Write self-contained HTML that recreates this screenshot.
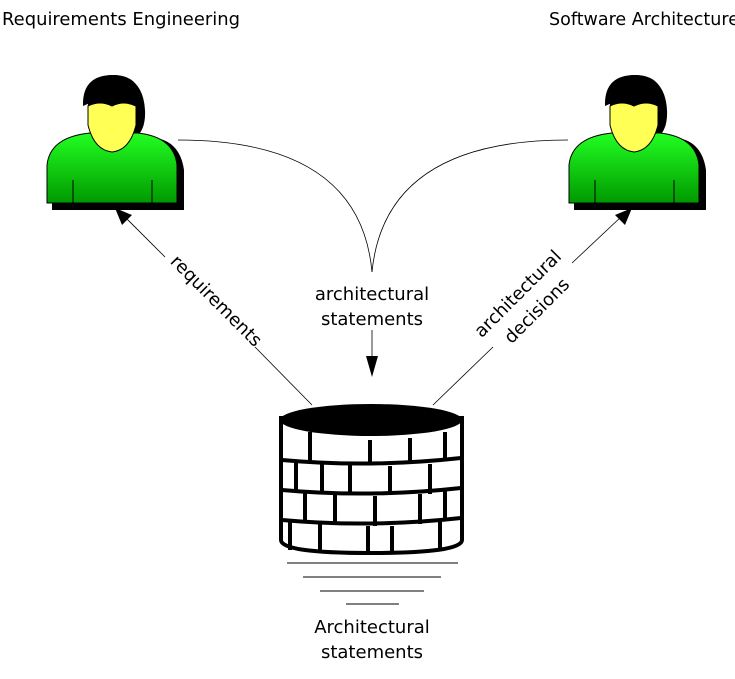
<!DOCTYPE html>
<html><head><style>body{margin:0;background:#fff}svg{display:block}</style></head><body>
<svg width="735" height="679" viewBox="0 0 735 679" xmlns="http://www.w3.org/2000/svg" font-family="'DejaVu Sans',sans-serif">
<defs>
<linearGradient id="g" x1="0" y1="0" x2="0" y2="1"><stop offset="0" stop-color="#22ff22"/><stop offset="1" stop-color="#009900"/></linearGradient>
<g id="p">
<path d="M52 210 L52 170 Q56 142 92 138 L156 138 Q180 142 184 170 L184 210 Z" fill="#000"/>
<path d="M88 112 Q86 75 113 75 Q143 76 145 110 Q146 130 135 138 L120 135 Z" fill="#000"/>
<path d="M47 203 L47 165 Q50 137 90 133 L138 133 Q174 137 177 165 L177 203 Z" fill="url(#g)" stroke="#000" stroke-width="1"/>
<line x1="73" y1="180" x2="73" y2="203" stroke="#000"/><line x1="152" y1="180" x2="152" y2="203" stroke="#000"/>
<path d="M88 106 Q100 100 112 106 Q124 100 136 106 L136 125 Q130 150 112 152 Q94 150 88 125 Z" fill="#ff5" stroke="#000"/>
<path d="M83 106 Q82 75 113 75 Q142 75 142 106 Q128 98 113 105 Q98 98 83 106 Z" fill="#000"/>
</g>
</defs>
<text x="2" y="25" font-size="18" textLength="238" lengthAdjust="spacingAndGlyphs">Requirements Engineering</text>
<text x="549" y="25" font-size="18" textLength="190" lengthAdjust="spacingAndGlyphs">Software Architecture</text>
<use href="#p"/>
<use href="#p" transform="translate(522,0)"/>
<g fill="none" stroke="#000" stroke-width="0.8">
<path d="M178 140 Q360 140 372 272"/>
<path d="M568 140 Q385 140 372 272"/>
<line x1="372" y1="330" x2="372" y2="358"/>
<line x1="312" y1="405" x2="255" y2="347"/><line x1="165" y1="257" x2="124" y2="216"/>
<line x1="433" y1="405" x2="493" y2="347"/><line x1="572" y1="263" x2="622" y2="216"/>
</g>
<polygon points="366,356 378,356 372,377" fill="#000"/>
<polygon points="115,208 132,215 122,225" fill="#000"/>
<polygon points="632,208 615,215 625,225" fill="#000"/>
<text x="372" y="300" font-size="18" text-anchor="middle">architectural</text>
<text x="372" y="325" font-size="18" text-anchor="middle">statements</text>
<text transform="translate(212,305) rotate(45)" font-size="18" text-anchor="middle">requirements</text>
<text transform="translate(522,298) rotate(-45)" font-size="18" text-anchor="middle">architectural</text>
<text transform="translate(541,315) rotate(-45)" font-size="18" text-anchor="middle">decisions</text>
<g>
<path d="M281 418 L281 540 Q281 553 370 553 Q462 553 462 540 L462 418 Z" fill="#fff" stroke="#000" stroke-width="4"/>
<g stroke="#000" stroke-width="4" fill="none">
<path d="M282 460 Q370 468 461 458"/><path d="M282 490 Q370 498 461 488"/><path d="M282 520 Q370 528 461 518"/>
<path d="M310 432 V462 M370 440 V464 M410 438 V464 M445 432 V460"/>
<path d="M296 462 V492 M322 464 V494 M350 465 V495 M390 466 V495 M430 464 V494"/>
<path d="M305 492 V522 M335 494 V524 M375 496 V526 M420 494 V524 M445 490 V520"/>
<path d="M290 522 V550 M320 524 V552 M368 526 V553 M392 526 V553 M440 522 V550"/>
</g>
<ellipse cx="371" cy="420" rx="91" ry="16" fill="#000"/>
</g>
<g stroke="#000" stroke-width="1">
<line x1="287" y1="563" x2="458" y2="563"/><line x1="303" y1="577" x2="441" y2="577"/>
<line x1="320" y1="591" x2="424" y2="591"/><line x1="346" y1="604" x2="399" y2="604"/>
</g>
<text x="372" y="633" font-size="18" text-anchor="middle">Architectural</text>
<text x="372" y="658" font-size="18" text-anchor="middle">statements</text>
</svg>
</body></html>
